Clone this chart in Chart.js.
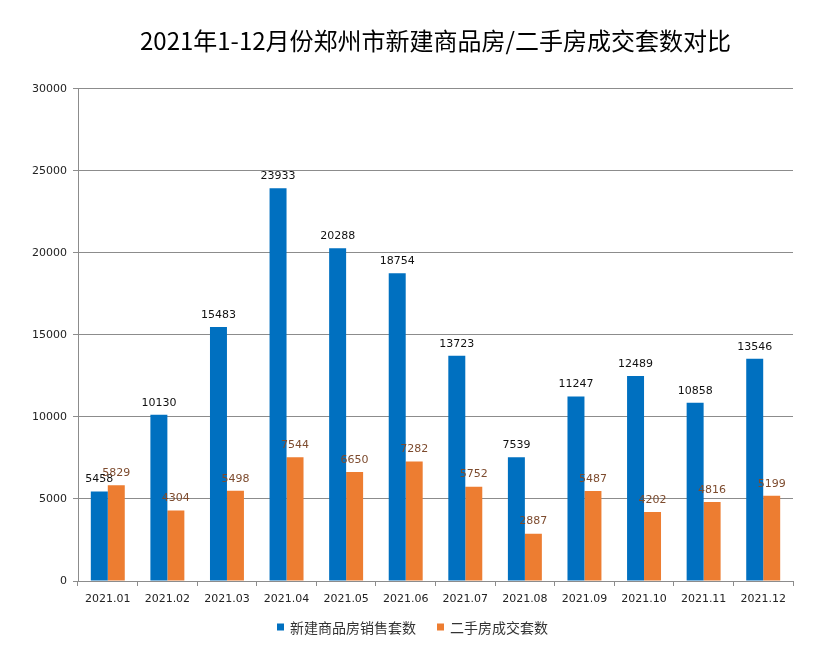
<!DOCTYPE html>
<html><head><meta charset="utf-8">
<script src="https://cdn.jsdelivr.net/npm/chart.js@4/dist/chart.umd.min.js"></script>
<style>html,body{margin:0;padding:0;background:#fff;} canvas{display:block;}</style>
</head><body>
<canvas id="c" width="825" height="667"></canvas>
<script>
const months = ['2021.01','2021.02','2021.03','2021.04','2021.05','2021.06','2021.07','2021.08','2021.09','2021.10','2021.11','2021.12'];
const newHomeSales = [5458,10130,15483,23933,20288,18754,13723,7539,11247,12489,10858,13546];
const resaleDeals = [5829,4304,5498,7544,6650,7282,5752,2887,5487,4202,4816,5199];
const seriesNames = ['新建商品房销售套数','二手房成交套数'];
const chartTitle = '2021年1-12月份郑州市新建商品房/二手房成交套数对比';
const yMax = 30000, yStep = 5000;

const BLUE = '#0070c0', ORANGE = '#ed7d31';
const labelColors = ['#111111', '#7d4b2e'];
const GRID = '#8c8c8c';
const FONT = 'DejaVu Sans';
const CJK = '"Noto Sans CJK SC"';

const valueLabels = {
  id: 'valueLabels',
  afterDatasetsDraw(chart) {
    const ctx = chart.ctx;
    ctx.save();
    ctx.font = '11px ' + FONT;
    ctx.textAlign = 'center';
    ctx.textBaseline = 'middle';
    chart.data.datasets.forEach((ds, i) => {
      const meta = chart.getDatasetMeta(i);
      ctx.fillStyle = labelColors[i];
      meta.data.forEach((bar, j) => {
        ctx.fillText(String(ds.data[j]), bar.x, bar.y - 12);
      });
    });
    ctx.restore();
  }
};

const customLegend = {
  id: 'customLegend',
  afterDraw(chart) {
    const ctx = chart.ctx;
    ctx.save();
    ctx.font = '14px ' + CJK;
    ctx.textBaseline = 'middle';
    ctx.textAlign = 'left';
    const box = 7, gap = 6, spacing = 21, cy = 627;
    const items = chart.data.datasets.map(d => ({text: d.label, color: d.backgroundColor, w: ctx.measureText(d.label).width}));
    let total = 0;
    items.forEach((it, k) => { total += box + gap + it.w + (k ? spacing : 0); });
    let x = chart.width / 2 - total / 2;
    items.forEach((it) => {
      ctx.fillStyle = it.color;
      ctx.fillRect(x, cy - box / 2, box, box);
      ctx.fillStyle = '#333333';
      ctx.fillText(it.text, x + box + gap, cy + 1);
      x += box + gap + it.w + spacing;
    });
    ctx.restore();
  }
};

new Chart(document.getElementById('c'), {
  type: 'bar',
  data: {
    labels: months,
    datasets: [
      {label: seriesNames[0], data: newHomeSales, backgroundColor: BLUE, categoryPercentage: 0.57, barPercentage: 1.0},
      {label: seriesNames[1], data: resaleDeals, backgroundColor: ORANGE, categoryPercentage: 0.57, barPercentage: 1.0}
    ]
  },
  options: {
    responsive: false,
    animation: false,
    devicePixelRatio: 1,
    layout: {padding: {left: 32, right: 32, top: 0, bottom: 60}},
    plugins: {
      legend: {display: false},
      tooltip: {enabled: false},
      title: {
        display: true,
        text: chartTitle,
        fullSize: false,
        color: '#000',
        font: {family: CJK, size: 24, weight: 'normal'},
        padding: {top: 26, bottom: 34}
      }
    },
    scales: {
      y: {
        min: 0, max: yMax,
        ticks: {stepSize: yStep, font: {family: FONT, size: 11}, color: '#222', padding: 6,
                callback: (v) => String(v)},
        grid: {color: GRID, tickLength: 5},
        border: {color: GRID},
        afterFit(s) { s.width = 46; }
      },
      x: {
        grid: {display: true, drawOnChartArea: false, offset: true, color: GRID, tickLength: 5},
        border: {color: GRID},
        ticks: {font: {family: FONT, size: 11}, color: '#222', padding: 7, maxRotation: 0},
        afterFit(s) { s.height = 26; }
      }
    }
  },
  plugins: [valueLabels, customLegend]
});
</script>
</body></html>
